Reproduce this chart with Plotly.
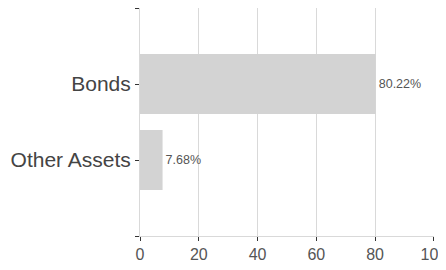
import plotly.graph_objects as go

categories = ["Other Assets", "Bonds"]
values = [7.68, 80.22]
labels = ["7.68%", "80.22%"]
x_ticks = [0, 20, 40, 60, 80, 100]

positions = list(range(len(categories)))
FONT = "Arial, Liberation Sans, sans-serif"

fig = go.Figure(go.Bar(
    x=values,
    y=positions,
    orientation="h",
    width=0.79,
    marker=dict(color="#d3d3d3", line=dict(width=0)),
    text=labels,
    textposition="outside",
    textfont=dict(family=FONT, size=12.5, color="#555555"),
    cliponaxis=False,
    hoverinfo="skip",
))

fig.update_layout(
    width=438, height=254,
    margin=dict(l=132, r=12, t=0, b=26),
    paper_bgcolor="white", plot_bgcolor="white",
    showlegend=False,
    font=dict(family=FONT, color="#444444"),
)

fig.update_xaxes(
    range=[0, 100.05],
    tickvals=x_ticks,
    showgrid=True, gridcolor="#d9d9d9", gridwidth=1,
    showline=True, linecolor="#d9d9d9", linewidth=1,
    ticks="outside", ticklen=4, tickcolor="#333333",
    tickfont=dict(family=FONT, size=16, color="#555555"),
    ticklabeloverflow="allow",
    zeroline=False,
    automargin=False,
    fixedrange=True,
)

fig.update_yaxes(
    range=[-1, len(categories)],
    tickmode="array",
    tickvals=[-1] + positions + [len(categories)],
    ticktext=[""] + categories + [""],
    showgrid=False,
    showline=True, linecolor="#d9d9d9", linewidth=1,
    ticks="outside", ticklen=4, tickcolor="#333333",
    tickfont=dict(family=FONT, size=21, color="#444444"),
    ticklabeloverflow="allow",
    zeroline=False,
    automargin=False,
    fixedrange=True,
)

fig.write_html("out.html")
